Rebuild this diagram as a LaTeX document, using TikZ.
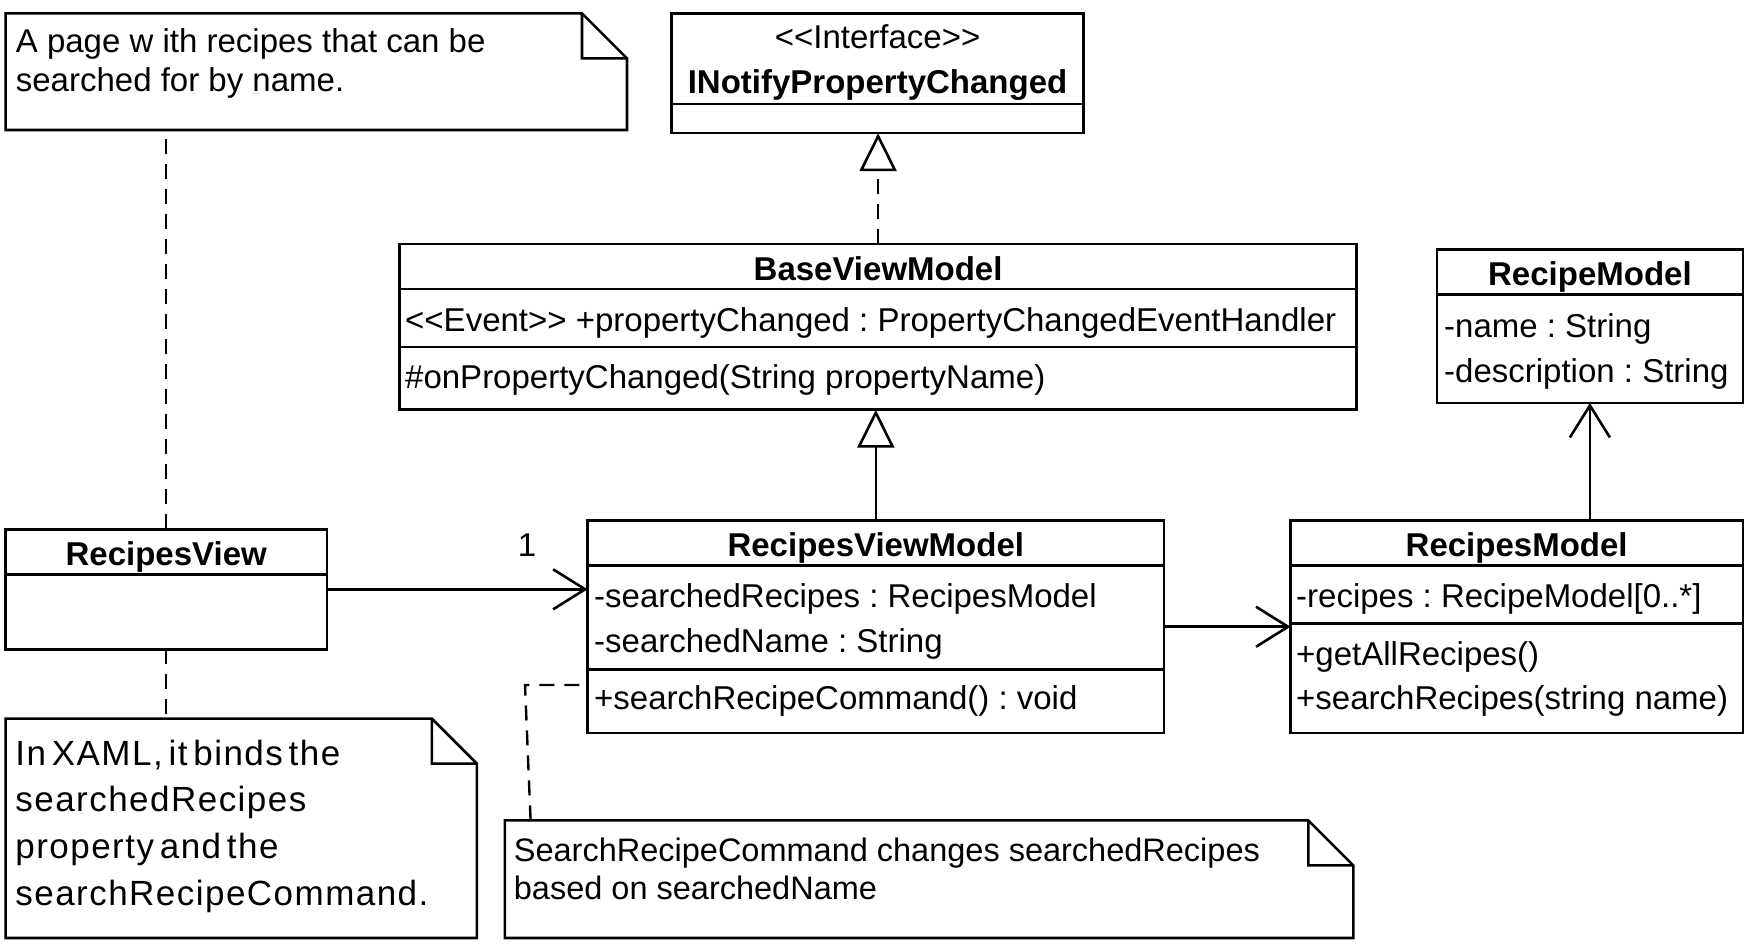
\documentclass[tikz,border=0pt]{standalone}
\usepackage{fontspec}
\setmainfont{Liberation Sans}[Ligatures=TeXOff]
\usetikzlibrary{arrows.meta,positioning,calc}
\frenchspacing
\newcommand\spreadfont{\fontsize{35}{46.7}\selectfont\addfontfeature{LetterSpace=4.2}\spaceskip=5.8pt\relax}
\tikzset{
  cls/.style={draw, line width=2.6pt, inner sep=0pt, outer sep=0pt},
  note/.style={inner sep=0pt, outer sep=0pt},
  ttl/.style={font=\fontsize{33}{39}\selectfont\bfseries, anchor=base, inner sep=0pt},
  attr/.style={anchor=base west, inner sep=0pt},
  ntext/.style={anchor=north west, inner sep=0pt, align=left},
  assoc/.style={line width=2.6pt, -{Straight Barb[length=32pt,width=40pt]}},
  inherit/.style={line width=2.6pt, -{Triangle[open,length=38pt,width=37pt,fill=white]}},
  realize/.style={inherit, dash pattern=on 15pt off 10pt},
  notelink/.style={line width=2.4pt, dash pattern=on 15pt off 10pt}
}

\begin{document}
\begin{tikzpicture}[x=1pt, y=-1pt, font=\fontsize{33}{39}\selectfont]
  \useasboundingbox (0,0) rectangle (1755,952);

  % classes
  \node[cls, minimum width=411.9pt, minimum height=119.8pt] (if) at (877.55,73.3) {};
  \node[cls, minimum width=957pt, minimum height=165.7pt] (base) at (878.1,326.85) {};
  \node[cls, minimum width=305.8pt, minimum height=153.4pt] (rcp) at (1589.9,326.3) {};
  \node[cls, minimum width=321.2pt, minimum height=119.8pt] (view) at (166.2,589.3) {};
  \node[cls, minimum width=576.4pt, minimum height=212.5pt] (rvm) at (875.8,626.75) {};
  \node[cls, minimum width=452.3pt, minimum height=212.5pt] (rm) at (1516.65,626.75) {};

  % compartments
  \draw[line width=2.6pt] (if.west |- 0,104) -- (if.east |- 0,104);
  \draw[line width=2.6pt] (base.west |- 0,288.8) -- (base.east |- 0,288.8);
  \draw[line width=2.6pt] (base.west |- 0,347) -- (base.east |- 0,347);
  \draw[line width=2.6pt] (rcp.west |- 0,294.4) -- (rcp.east |- 0,294.4);
  \draw[line width=2.6pt] (view.west |- 0,574.2) -- (view.east |- 0,574.2);
  \draw[line width=2.6pt] (rvm.west |- 0,565.3) -- (rvm.east |- 0,565.3);
  \draw[line width=2.6pt] (rvm.west |- 0,669.3) -- (rvm.east |- 0,669.3);
  \draw[line width=2.6pt] (rm.west |- 0,565.3) -- (rm.east |- 0,565.3);
  \draw[line width=2.6pt] (rm.west |- 0,623.4) -- (rm.east |- 0,623.4);

  \node[anchor=base, inner sep=0pt] (if-st) at (877.55,49) {<<Interface>>};
  \node[ttl] (if-t) at (877.55,94) {INotifyPropertyChanged};

  \node[ttl] (base-t) at (878.1,280) {BaseViewModel};
  \node[attr] (base-a1) at (405,331) {<<Event>> +propertyChanged : PropertyChangedEventHandler};
  \node[attr] (base-m1) at (405,388) {\#onPropertyChanged(String propertyName)};

  \node[ttl] (rcp-t) at (1589.9,285) {RecipeModel};
  \node[attr] (rcp-a1) at (1444,337) {-name : String};
  \node[attr] (rcp-a2) at (1444,382) {-description : String};

  \node[ttl] (view-t) at (166.2,565) {RecipesView};

  \node[ttl] (rvm-t) at (875.8,556) {RecipesViewModel};
  \node[attr] (rvm-a1) at (594,607) {-searchedRecipes : RecipesModel};
  \node[attr] (rvm-a2) at (594,652) {-searchedName : String};
  \node[attr] (rvm-m1) at (594,709) {+searchRecipeCommand() : void};

  \node[ttl] (rm-t) at (1516.65,556) {RecipesModel};
  \node[attr] (rm-a1) at (1296,607) {-recipes : RecipeModel[0..*]};
  \node[attr] (rm-m1) at (1296,665) {+getAllRecipes()};
  \node[attr] (rm-m2) at (1296,709) {+searchRecipes(string name)};

  % notes
  \node[note, minimum width=621.4pt, minimum height=116.6pt] (note1) at (316.3,71.7) {};
  \node[note, minimum width=471.2pt, minimum height=219.4pt] (note2) at (241.2,828.3) {};
  \node[note, minimum width=848.5pt, minimum height=117.6pt] (note3) at (929.05,879.2) {};
  \foreach \n in {note1,note2,note3}
    \draw[line width=2.6pt] (\n.south west) -- (\n.north west) -- ([xshift=-45pt]\n.north east)
      -- ([yshift=-45pt]\n.north east) -- (\n.south east) -- cycle
      ([xshift=-45pt]\n.north east) |- ([yshift=-45pt]\n.north east);

  \node[ntext] (note1-t) at (15.7,28.3)
    {A page w ith recipes that can be\\searched for by name.};
  \node[ntext, font=\spreadfont] (note2-t) at (15.2,739.5)
    {In XAML, it binds the\\searchedRecipes\\property and the\\searchRecipeCommand.};
  \node[ntext, font=\fontsize{32.5}{38}\selectfont] (note3-t) at (513.7,837.3)
    {SearchRecipeCommand changes searchedRecipes\\based on searchedName};

  % relations
  \draw[realize] (base.north) -- (base.north |- if.south);
  \draw[inherit] (rvm.north) -- (rvm.north |- base.south);
  \draw[assoc] (view.east) -- (view.east -| rvm.west);
  \node[anchor=base, inner sep=0pt] (mult) at (527,556) {1};
  \draw[assoc] (rvm.east) -- (rvm.east -| rm.west);
  \draw[assoc] (rcp.south |- rm.north) -- (rcp.south);

  \draw[notelink] (view.north) -- (view.north |- note1.south);
  \draw[notelink] (view.south) -- (view.south |- note2.north);
  \coordinate (bend) at (525,685);
  \draw[notelink] ([xshift=25.8pt]note3.north west) -- (bend) -- (bend -| rvm.west);
\end{tikzpicture}
\end{document}
